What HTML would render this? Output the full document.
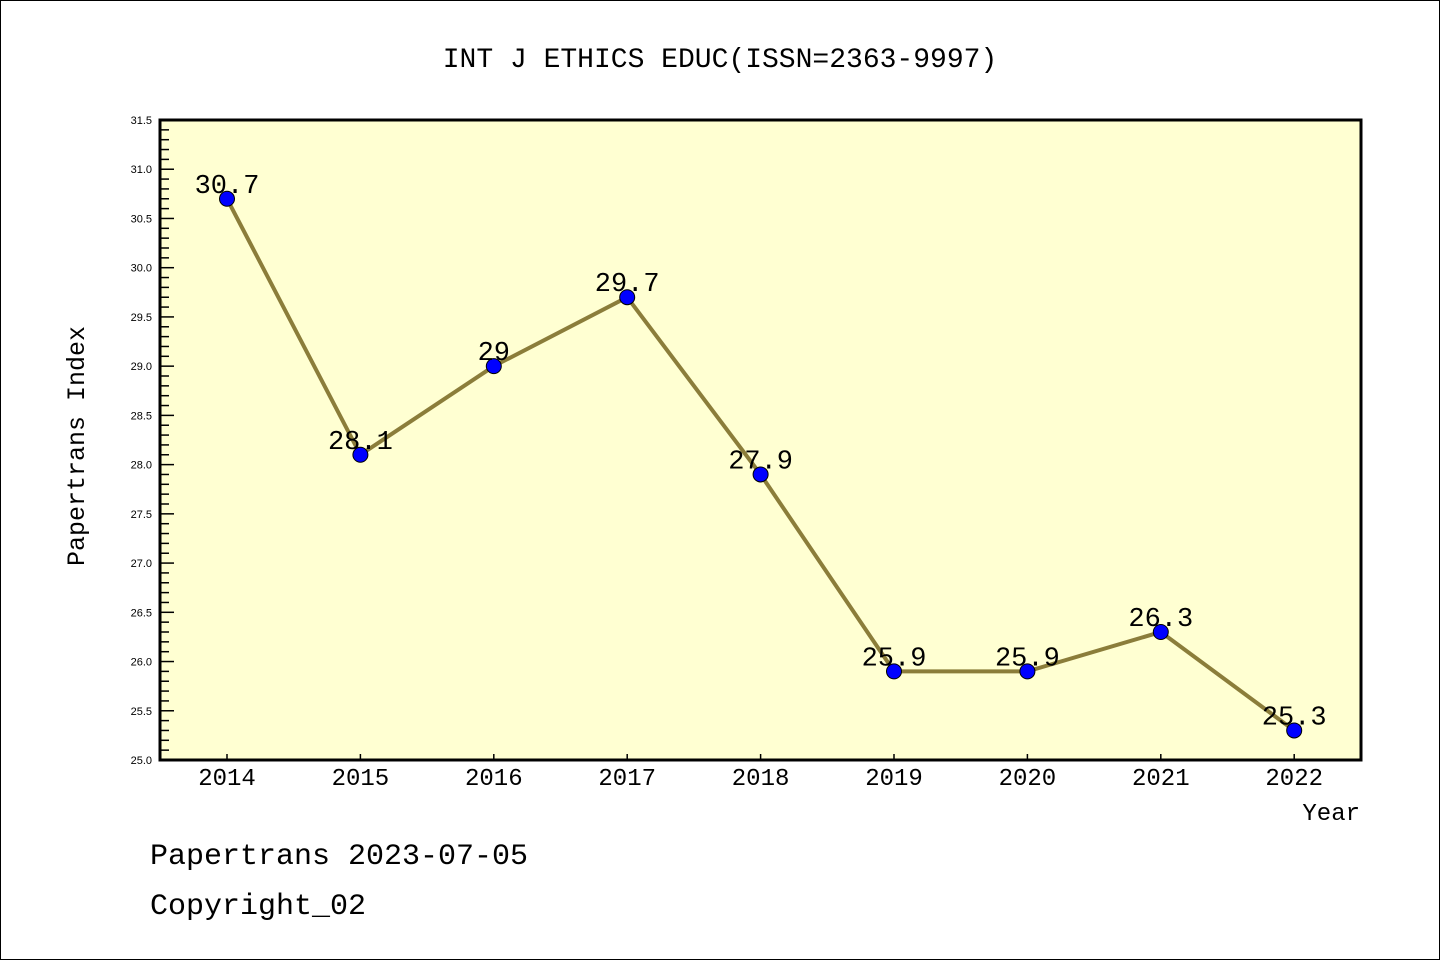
<!DOCTYPE html>
<html><head><meta charset="utf-8"><style>
body{margin:0;background:#fff}
svg{display:block;font-family:"Liberation Mono",monospace}
</style></head><body>
<svg width="1440" height="960">
<rect x="0.5" y="0.5" width="1439" height="959" fill="#fff" stroke="#000"/>
<text x="720" y="67" text-anchor="middle" font-size="28">INT J ETHICS EDUC(ISSN=2363-9997)</text>
<rect x="160" y="120" width="1201" height="640" fill="#ffffd2"/>
<g id="yaxis"></g>
<g id="xaxis"></g>
<g id="series"></g>
<rect x="160" y="120" width="1201" height="640" fill="none" stroke="#000" stroke-width="3"/>
<text x="84" y="446" transform="rotate(-90 84 446)" text-anchor="middle" font-size="25">Papertrans Index</text>
<text x="1360" y="820" text-anchor="end" font-size="24">Year</text>
<text x="150" y="864" font-size="30">Papertrans 2023-07-05</text>
<text x="150" y="914" font-size="30">Copyright_02</text>
</svg>
<script>
const years=["2014","2015","2016","2017","2018","2019","2020","2021","2022"];
const values=[30.7,28.1,29.0,29.7,27.9,25.9,25.9,26.3,25.3];
const valueLabels=["30.7","28.1","29","29.7","27.9","25.9","25.9","26.3","25.3"];
const yTickLabels=["25.0","25.5","26.0","26.5","27.0","27.5","28.0","28.5","29.0","29.5","30.0","30.5","31.0","31.5"];
const NS="http://www.w3.org/2000/svg";
const yMin=25,yMax=31.5,plotTop=120,plotBot=760;
const y=v=>plotBot-(v-yMin)/(yMax-yMin)*(plotBot-plotTop);
const x=i=>227+i*133.4;
function mk(t,a,p){const e=document.createElementNS(NS,t);for(const k in a)e.setAttribute(k,a[k]);p.appendChild(e);return e;}
const ya=document.getElementById('yaxis');
for(let k=0;k<=65;k++){const v=yMin+k*0.1;const major=k%5===0;
 const l=mk('line',{x1:160,x2:major?174:169,y1:y(v),y2:y(v),stroke:'#000','stroke-width':1.5},ya);
 
 }
yTickLabels.forEach(s=>{const t=mk('text',{x:152,y:y(parseFloat(s))+4,'text-anchor':'end','font-size':11,'font-family':'Liberation Sans, sans-serif'},ya);t.textContent=s;
 
 });
const xa=document.getElementById('xaxis');
years.forEach((s,i)=>{const l=mk('line',{x1:x(i),x2:x(i),y1:plotBot,y2:plotBot-6,stroke:'#000','stroke-width':1.5},xa);
 
 
 const t=mk('text',{x:x(i),y:785,'text-anchor':'middle','font-size':24},xa);t.textContent=s;
 
 });
const sg=document.getElementById('series');
const pl=mk('polyline',{points:values.map((v,i)=>x(i)+','+y(v)).join(' '),fill:'none',stroke:'#8b7d3a','stroke-width':4},sg);


values.forEach((v,i)=>{const c=mk('circle',{cx:x(i),cy:y(v),r:7.5,fill:'#0000ff',stroke:'#000','stroke-width':1},sg);
 
 
 const t=mk('text',{x:x(i),y:y(v)-6,'text-anchor':'middle','font-size':27},sg);t.textContent=valueLabels[i];
 
 });
</script>
</body></html>
